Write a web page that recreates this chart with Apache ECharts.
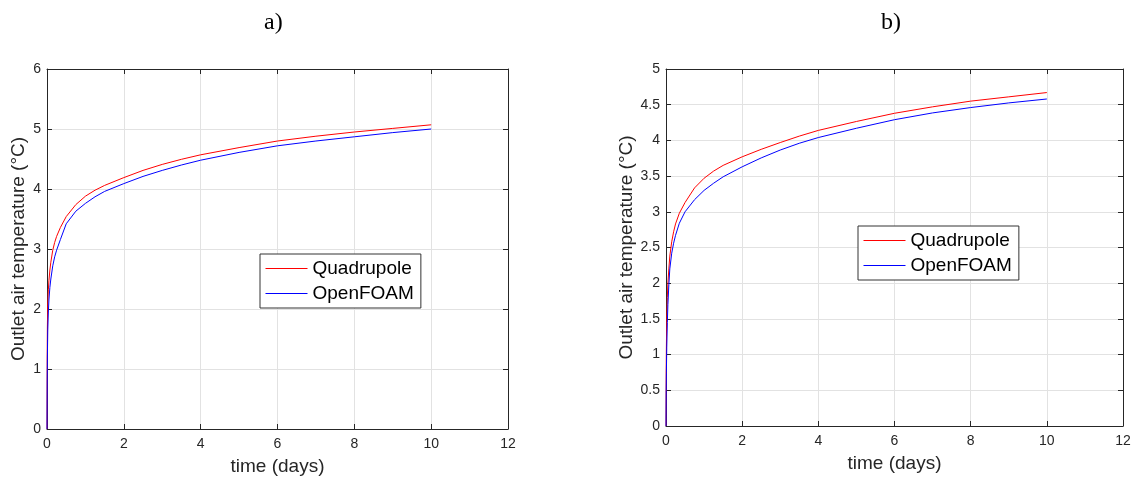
<!DOCTYPE html>
<html>
<head>
<meta charset="utf-8">
<script src="https://cdn.jsdelivr.net/npm/echarts@6/dist/echarts.min.js"></script>
<style>
  html, body { margin: 0; padding: 0; background: #fff; }
  #chart { width: 1137px; height: 481px; }
</style>
</head>
<body>
<div id="chart"></div>
<script>
// Panel a): outlet air temperature over time
const timeA = [0, 0.005, 0.01, 0.02, 0.035, 0.05, 0.075, 0.1, 0.15, 0.2, 0.25, 0.35, 0.5, 0.75, 1, 1.25, 1.5, 2, 2.5, 3, 3.5, 4, 5, 6, 7, 8, 9, 10];
const quadA = [0, 1.2, 1.7, 2.1, 2.32, 2.47, 2.65, 2.78, 2.98, 3.11, 3.21, 3.36, 3.54, 3.74, 3.88, 3.98, 4.06, 4.19, 4.31, 4.41, 4.495, 4.57, 4.69, 4.80, 4.88, 4.95, 5.01, 5.07];
const foamA = [0, 0.8, 1.2, 1.65, 1.95, 2.15, 2.36, 2.5, 2.72, 2.87, 2.98, 3.16, 3.42, 3.63, 3.76, 3.87, 3.96, 4.09, 4.21, 4.31, 4.40, 4.48, 4.61, 4.72, 4.80, 4.87, 4.94, 5.00];

// Panel b)
const timeB = [0, 0.005, 0.01, 0.02, 0.035, 0.05, 0.075, 0.1, 0.15, 0.2, 0.25, 0.35, 0.5, 0.75, 1, 1.25, 1.5, 2, 2.5, 3, 3.5, 4, 5, 6, 7, 8, 9, 10];
const quadB = [0, 0.8, 1.1, 1.5, 1.8, 2.0, 2.2, 2.38, 2.58, 2.72, 2.83, 2.98, 3.13, 3.335, 3.47, 3.57, 3.65, 3.77, 3.875, 3.97, 4.06, 4.14, 4.265, 4.38, 4.47, 4.55, 4.61, 4.67];
const foamB = [0, 0.5, 0.75, 1.1, 1.45, 1.7, 1.98, 2.2, 2.42, 2.56, 2.67, 2.84, 3.0, 3.17, 3.3, 3.40, 3.49, 3.63, 3.755, 3.865, 3.96, 4.04, 4.17, 4.29, 4.385, 4.46, 4.525, 4.58];

const seriesNames = ['Quadrupole', 'OpenFOAM'];
const panelTitles = ['a)', 'b)'];
const xName = 'time (days)';
const yName = 'Outlet air temperature (°C)';

const SANS = '"Liberation Sans", Arial, Helvetica, sans-serif';
const SERIF = '"Liberation Serif", "Times New Roman", serif';
const INK = '#262626';
const GRIDLINE = '#e2e2e2';

const pairs = (xs, ys) => xs.map((x, i) => [x, ys[i]]);

function xAxes(gridIndex) {
  const base = {
    gridIndex, type: 'value', min: 0, max: 12, interval: 2,
    axisLine: { show: true, onZero: false, lineStyle: { color: INK, width: 1 } },
    axisTick: { show: true, inside: true, length: 5, lineStyle: { color: INK } }
  };
  return [
    Object.assign({}, base, {
      position: 'bottom', name: xName, nameLocation: 'middle', nameGap: 28,
      nameTextStyle: { fontFamily: SANS, fontSize: 19, color: INK },
      axisLabel: { fontFamily: SANS, fontSize: 14, color: INK, margin: 8 },
      splitLine: { show: true, lineStyle: { color: GRIDLINE, width: 1 } }
    }),
    Object.assign({}, base, {
      position: 'top', axisLabel: { show: false }, splitLine: { show: false }
    })
  ];
}

function yAxes(gridIndex, max, interval, gap) {
  const base = {
    gridIndex, type: 'value', min: 0, max, interval,
    axisLine: { show: true, onZero: false, lineStyle: { color: INK, width: 1 } },
    axisTick: { show: true, inside: true, length: 5, lineStyle: { color: INK } }
  };
  return [
    Object.assign({}, base, {
      position: 'left', name: yName, nameLocation: 'middle', nameGap: gap,
      nameTextStyle: { fontFamily: SANS, fontSize: 19, color: INK },
      axisLabel: { fontFamily: SANS, fontSize: 14, color: INK, margin: 6 },
      splitLine: { show: true, lineStyle: { color: GRIDLINE, width: 1 } }
    }),
    Object.assign({}, base, {
      position: 'right', axisLabel: { show: false }, splitLine: { show: false }
    })
  ];
}

function line(name, color, xIdx, yIdx, data) {
  return {
    name, type: 'line', xAxisIndex: xIdx, yAxisIndex: yIdx,
    data, showSymbol: false, symbol: 'none', smooth: false,
    lineStyle: { color, width: 1 }, itemStyle: { color },
    animation: false
  };
}

function legend(left, top) {
  return {
    left, top, orient: 'vertical',
    data: seriesNames,
    itemWidth: 42, itemHeight: 14, itemGap: 6,
    padding: [5, 7, 5, 5],
    itemStyle: { opacity: 0 },
    lineStyle: { width: 1 },
    borderColor: '#333', borderWidth: 1, backgroundColor: '#fff',
    textStyle: { fontFamily: SANS, fontSize: 19, color: '#000' },
    selectedMode: false
  };
}

const chart = echarts.init(document.getElementById('chart'), null, { renderer: 'canvas' });
chart.setOption({
  backgroundColor: '#fff',
  animation: false,
  title: [
    { text: panelTitles[0], left: 259, top: 6,
      textStyle: { fontFamily: SERIF, fontSize: 24, fontWeight: 'normal', color: '#000' } },
    { text: panelTitles[1], left: 876, top: 6,
      textStyle: { fontFamily: SERIF, fontSize: 24, fontWeight: 'normal', color: '#000' } }
  ],
  grid: [
    { left: 47, top: 69, width: 461, height: 360 },
    { left: 666, top: 69, width: 457, height: 357 }
  ],
  xAxis: [...xAxes(0), ...xAxes(1)],
  yAxis: [...yAxes(0, 6, 1, 19), ...yAxes(1, 5, 0.5, 30)],
  legend: [legend(260, 254), legend(858, 226)],
  series: [
    line(seriesNames[0], '#ff0000', 0, 0, pairs(timeA, quadA)),
    line(seriesNames[1], '#0000ff', 0, 0, pairs(timeA, foamA)),
    line(seriesNames[0], '#ff0000', 2, 2, pairs(timeB, quadB)),
    line(seriesNames[1], '#0000ff', 2, 2, pairs(timeB, foamB))
  ]
});
</script>
</body>
</html>
